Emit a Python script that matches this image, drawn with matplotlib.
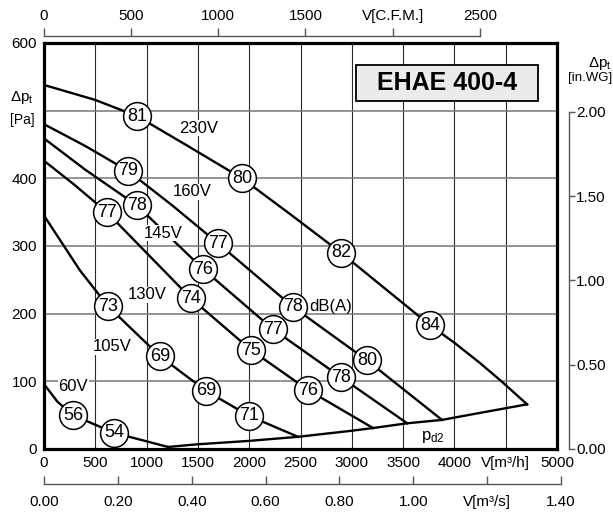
import matplotlib
matplotlib.use("Agg")
import matplotlib.pyplot as plt
from matplotlib.patches import Rectangle

plt.rcParams["font.family"] = ["Liberation Sans", "DejaVu Sans"]
plt.rcParams["mathtext.fontset"] = "custom"
plt.rcParams["mathtext.rm"] = "Liberation Sans"
plt.rcParams["mathtext.it"] = "Liberation Sans:italic"

# fan curves: airflow [m3/h] vs total pressure [Pa]
q_230 = [0, 497, 906, 1400, 1930, 2400, 2895, 3300, 3762, 4000, 4250, 4474, 4708]
p_230 = [538, 516, 492, 448, 400, 347, 290, 240, 183, 157, 127, 98, 66]
q_160 = [0, 400, 819, 1250, 1696, 2427, 3148, 3879]
p_160 = [480, 448, 411, 360, 304, 210, 131, 43]
q_145 = [0, 400, 906, 1550, 2232, 2895, 3540]
p_145 = [459, 413, 360, 266, 177, 106, 38]
q_130 = [0, 300, 612, 1430, 2020, 2575, 3207]
p_130 = [426, 390, 350, 223, 146, 87, 31]
q_105 = [0, 350, 624, 1131, 1579, 1998, 2476]
p_105 = [345, 264, 211, 137, 86, 49, 18]
q_60 = [0, 130, 283, 682, 1209]
p_60 = [96, 70, 50, 24, 3]

# dynamic pressure at outlet
q_pd2 = [1209, 1500, 2000, 2476, 3000, 3207, 3540, 3879, 4200, 4708]
p_pd2 = [3, 7, 12, 18, 27, 31, 38, 43, 52, 66]

# sound power level markers [dB(A)]
db_q = [906, 1930, 2895, 3762,
        819, 1696, 2427, 3148,
        906, 1550, 2232, 2895,
        612, 1430, 2020, 2575,
        624, 1131, 1579, 1998,
        283, 682]
db_p = [492, 400, 290, 183,
        411, 304, 210, 131,
        360, 266, 177, 106,
        350, 223, 146, 87,
        211, 137, 86, 49,
        50, 24]
db_val = [81, 80, 82, 84,
          79, 77, 78, 80,
          78, 76, 77, 78,
          77, 74, 75, 76,
          73, 69, 69, 71,
          56, 54]

volt_labels = ["230V", "160V", "145V", "130V", "105V", "60V"]
volt_q = [1511, 1442, 1160, 1004, 663, 283]
volt_p = [474, 380, 319, 228, 151, 93]

x_ticks = [0, 500, 1000, 1500, 2000, 2500, 3000, 3500, 4000, 4500, 5000]
x_labels = ["0", "500", "1000", "1500", "2000", "2500", "3000", "3500", "4000",
            "V[m³/h]", "5000"]
y_ticks = [0, 100, 200, 300, 400, 500, 600]
y_labels = ["0", "100", "200", "300", "400", "", "600"]
cfm_ticks = [0, 500, 1000, 1500, 2000, 2500]
cfm_labels = ["0", "500", "1000", "1500", "V[C.F.M.]", "2500"]
ms_ticks = [0.0, 0.2, 0.4, 0.6, 0.8, 1.0, 1.2, 1.4]
ms_labels = ["0.00", "0.20", "0.40", "0.60", "0.80", "1.00", "V[m³/s]", "1.40"]
wg_ticks = [0.0, 0.5, 1.0, 1.5, 2.0]
wg_labels = ["0.00", "0.50", "1.00", "1.50", "2.00"]

W, H = 613, 515
fig = plt.figure(figsize=(W / 100, H / 100), dpi=100)

# main axes frame in pixels
x0, x1, y_top, y_bot = 44, 557, 43, 449
px_per_q = (x1 - x0) / 5000
px_per_p = (y_bot - y_top) / 600


def fx(px):
    return px / W


def fy(py):
    return 1 - py / H


ax = fig.add_axes([fx(x0), fy(y_bot), fx(x1 - x0), (y_bot - y_top) / H])
ax.set_xlim(0, 5000)
ax.set_ylim(0, 600)

for q in x_ticks[1:-1]:
    ax.axvline(q, color="#2a2a2a", lw=0.8, zorder=1)
for p in y_ticks[1:-1]:
    ax.axhline(p, color="#777777", lw=1.1, zorder=1)

curve_kw = dict(color="black", lw=1.7, zorder=3, solid_joinstyle="round")
for qs, ps in [(q_230, p_230), (q_160, p_160), (q_145, p_145),
               (q_130, p_130), (q_105, p_105), (q_60, p_60)]:
    ax.plot(qs, ps, **curve_kw)
ax.plot(q_pd2, p_pd2, **curve_kw)

ax.scatter(db_q, db_p, s=400, facecolor="white", edgecolor="black",
           linewidth=1.1, zorder=5, clip_on=False)
for q, p, v in zip(db_q, db_p, db_val):
    ax.text(q, p, str(v), ha="center", va="center", fontsize=13, zorder=6)

for lab, q, p in zip(volt_labels, volt_q, volt_p):
    ax.text(q, p, lab, ha="center", va="center", fontsize=12, zorder=4,
            bbox=dict(facecolor="white", edgecolor="none", pad=0.5))

ax.text(2590, 210, "dB(A)", ha="left", va="center", fontsize=12, zorder=4)
ax.text(3791, 18, r"p$_\mathregular{d2}$", ha="center", va="center",
        fontsize=12, zorder=4)

# model name box
ax.add_patch(Rectangle((0.608, 0.857), 0.355, 0.089, transform=ax.transAxes,
                       facecolor="#ebebeb", edgecolor="black", lw=1.3, zorder=6))
ax.text(0.7855, 0.9015, "EHAE 400-4", transform=ax.transAxes, ha="center",
        va="center", fontsize=18, fontweight="bold", zorder=7)

ax.set_xticks(x_ticks)
ax.set_xticklabels(x_labels, fontsize=11)
ax.set_yticks(y_ticks)
ax.set_yticklabels(y_labels, fontsize=11)
ax.tick_params(length=0, pad=5)
for s in ax.spines.values():
    s.set_linewidth(2.3)
    s.set_zorder(8)

fig.text(fx(22), fy(98), r"$\mathregular{\Delta p_t}$", ha="center",
         va="center", fontsize=11)
fig.text(fx(22), fy(120), "[Pa]", ha="center", va="center", fontsize=10)

side_color = "#555555"

# top airflow scale in CFM
cfm_w = 2500 * 1.69901 * px_per_q
ax_cfm = fig.add_axes([fx(x0), fy(36), fx(cfm_w), 0.0001])
ax_cfm.set_xlim(0, 2500)
ax_cfm.patch.set_visible(False)
for n in ["left", "right", "bottom"]:
    ax_cfm.spines[n].set_visible(False)
ax_cfm.spines["top"].set_color(side_color)
ax_cfm.spines["top"].set_linewidth(1.0)
ax_cfm.xaxis.tick_top()
ax_cfm.set_xticks(cfm_ticks)
ax_cfm.set_xticklabels(cfm_labels, fontsize=11)
ax_cfm.tick_params(axis="x", direction="out", length=6, width=1.0,
                   color=side_color, pad=3)
ax_cfm.set_yticks([])

# bottom airflow scale in m3/s
ms_w = 1.4 * 3600 * px_per_q
ax_ms = fig.add_axes([fx(x0), fy(484), fx(ms_w), 0.0001])
ax_ms.set_xlim(0, 1.4)
ax_ms.patch.set_visible(False)
for n in ["left", "right", "top"]:
    ax_ms.spines[n].set_visible(False)
ax_ms.spines["bottom"].set_color(side_color)
ax_ms.spines["bottom"].set_linewidth(1.0)
ax_ms.set_xticks(ms_ticks)
ax_ms.set_xticklabels(ms_labels, fontsize=11)
ax_ms.tick_params(axis="x", direction="in", length=6, width=1.0,
                  color=side_color, pad=8)
ax_ms.set_yticks([])

# right pressure scale in inches of water
wg_h = 2.0 * 249.089 * px_per_p
ax_wg = fig.add_axes([fx(569), fy(y_bot), 0.0001, wg_h / H])
ax_wg.set_ylim(0, 2.0)
ax_wg.patch.set_visible(False)
for n in ["left", "top", "bottom"]:
    ax_wg.spines[n].set_visible(False)
ax_wg.spines["right"].set_color(side_color)
ax_wg.spines["right"].set_linewidth(1.0)
ax_wg.yaxis.tick_right()
ax_wg.set_yticks(wg_ticks)
ax_wg.set_yticklabels(wg_labels, fontsize=11)
ax_wg.tick_params(axis="y", direction="out", length=4, width=1.0,
                  color=side_color, pad=1)
ax_wg.set_xticks([])

fig.text(fx(600), fy(63), r"$\mathregular{\Delta p_t}$", ha="center",
         va="center", fontsize=11)
fig.text(fx(612), fy(78), "[in.WG]", ha="right", va="center", fontsize=9.5)

fig.savefig("out.png", dpi=100)
